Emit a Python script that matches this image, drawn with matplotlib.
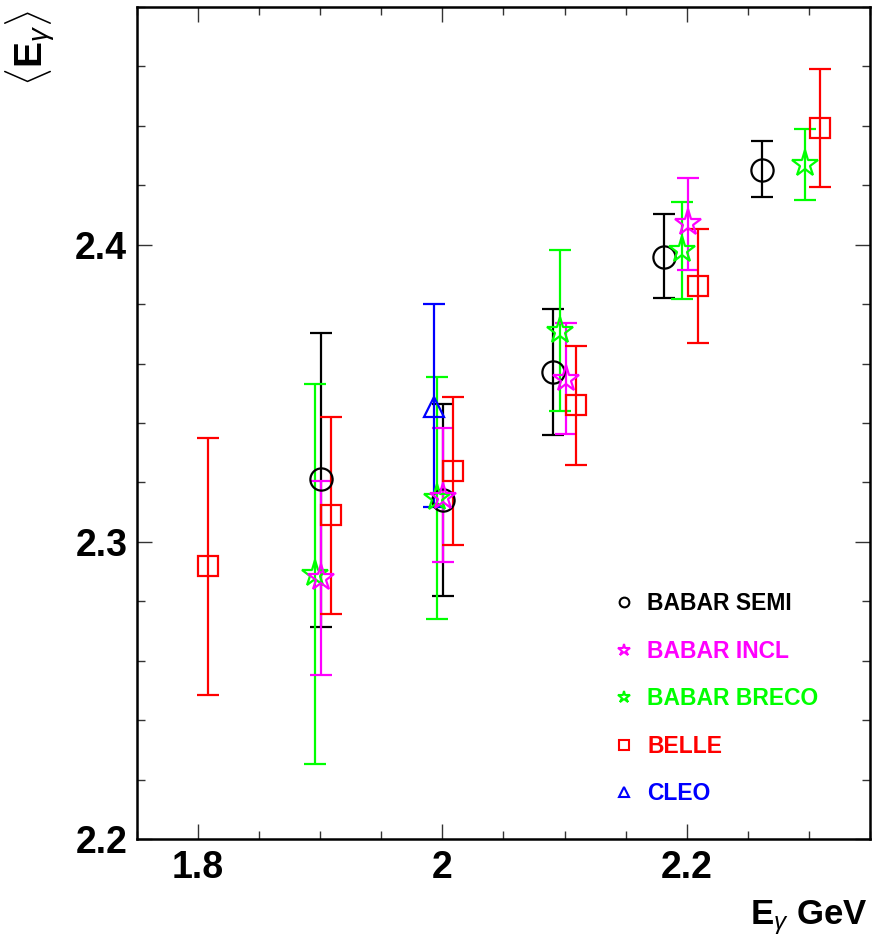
import matplotlib
matplotlib.use("Agg")
import matplotlib.pyplot as plt
from matplotlib.lines import Line2D
from matplotlib.ticker import MultipleLocator, FixedLocator, FixedFormatter
import numpy as np

plt.rcParams['font.family'] = ['Liberation Sans', 'DejaVu Sans']
plt.rcParams['mathtext.fontset'] = 'custom'
plt.rcParams['mathtext.rm'] = 'Liberation Sans'
plt.rcParams['mathtext.bf'] = 'Liberation Sans:bold'
plt.rcParams['mathtext.it'] = 'Liberation Sans:italic'

# ---- data ----
semi_x = [1.9006, 2.0008, 2.0907, 2.1811, 2.2615]
semi_y = [2.3210, 2.3140, 2.3571, 2.3960, 2.4253]
semi_hi = [2.3702, 2.3464, 2.3785, 2.4104, 2.4348]
semi_lo = [2.2713, 2.2817, 2.3358, 2.3821, 2.4160]

incl_x = [1.9006, 2.0008, 2.1014, 2.2014]
incl_y = [2.2878, 2.3151, 2.3547, 2.4073]
incl_hi = [2.3204, 2.3382, 2.3735, 2.4225]
incl_lo = [2.2552, 2.2932, 2.3362, 2.3916]

breco_x = [1.8956, 1.9954, 2.0962, 2.1965, 2.2965]
breco_y = [2.2893, 2.3146, 2.3710, 2.3983, 2.4272]
breco_hi = [2.3530, 2.3556, 2.3983, 2.4143, 2.4388]
breco_lo = [2.2252, 2.2741, 2.3440, 2.3818, 2.4152]

belle_x = [1.8080, 1.9088, 2.0090, 2.1090, 2.2093, 2.3090]
belle_y = [2.2918, 2.3089, 2.3238, 2.3460, 2.3862, 2.4394]
belle_hi = [2.3350, 2.3421, 2.3486, 2.3660, 2.4053, 2.4590]
belle_lo = [2.2486, 2.2758, 2.2988, 2.3260, 2.3668, 2.4193]

cleo_x = [1.9929]
cleo_y = [2.3455]
cleo_hi = [2.3801]
cleo_lo = [2.3117]

labels = ["BABAR SEMI", "BABAR INCL", "BABAR BRECO", "BELLE", "CLEO"]
colors = ["#000000", "#ff00ff", "#00ff00", "#ff0000", "#0000ff"]
markers = ["o", "*", "*", "s", "^"]

xticks = [1.8, 2.0, 2.2]
xticklabels = ["1.8", "2", "2.2"]
yticks = [2.2, 2.3, 2.4]
yticklabels = ["2.2", "2.3", "2.4"]

series = [
    (semi_x, semi_y, semi_lo, semi_hi),
    (breco_x, breco_y, breco_lo, breco_hi),
    (incl_x, incl_y, incl_lo, incl_hi),
    (belle_x, belle_y, belle_lo, belle_hi),
    (cleo_x, cleo_y, cleo_lo, cleo_hi),
]
order = [0, 2, 1, 3, 4]
msizes = [16, 20, 20, 15, 15]

fig = plt.figure(figsize=(8.73, 9.36), dpi=100)
ax = fig.add_axes([137/873, 1-839/936, (870-137)/873, (839-7)/936])

for (x, y, lo, hi), idx in zip(series, order):
    x = np.array(x); y = np.array(y); lo = np.array(lo); hi = np.array(hi)
    ax.errorbar(x, y, yerr=[y - lo, hi - y], fmt=markers[idx], color=colors[idx],
                mfc='none', mec=colors[idx], ms=msizes[idx], mew=1.6,
                elinewidth=1.6, capsize=8, capthick=1.6, zorder=3)

ax.set_xlim(1.75, 2.35)
ax.set_ylim(2.2, 2.48)
ax.xaxis.set_major_locator(FixedLocator(xticks))
ax.xaxis.set_major_formatter(FixedFormatter(xticklabels))
ax.yaxis.set_major_locator(FixedLocator(yticks))
ax.yaxis.set_major_formatter(FixedFormatter(yticklabels))
ax.xaxis.set_minor_locator(MultipleLocator(0.05))
ax.yaxis.set_minor_locator(MultipleLocator(0.02))
ax.tick_params(which='both', direction='in', top=True, right=True, width=1.0, color='#333333')
ax.tick_params(which='major', length=11)
ax.tick_params(which='minor', length=6)
ax.tick_params(axis='x', which='major', labelsize=27, pad=8)
ax.tick_params(axis='y', which='major', labelsize=27, pad=7)
for lab in ax.get_xticklabels() + ax.get_yticklabels():
    lab.set_fontweight('bold')
for s in ax.spines.values():
    s.set_linewidth(1.8)

# legend
handles = [Line2D([], [], linestyle='none', marker=markers[i], mfc='none', mec=colors[i],
                  ms=(9 if markers[i] == '*' else 7), mew=1.5) for i in range(5)]
leg = ax.legend(handles, labels, loc='upper left', bbox_to_anchor=(0.64, 0.3075),
                frameon=False, prop={'family': 'Liberation Sans', 'weight': 'bold', 'size': 16.5},
                handlelength=0.8, handletextpad=0.6, labelspacing=1.07, borderaxespad=0)
for t, c in zip(leg.get_texts(), colors):
    t.set_color(c)

fig.text(31/873, 1-48/936, r'$\langle\mathbf{E}_{\gamma}\rangle$', rotation=90,
         ha='center', va='center', fontsize=28)
fig.text(868/873, 1-924/936, r'$\mathbf{E}_{\gamma}$ GeV', ha='right', va='baseline',
         fontsize=25, fontweight='bold')

fig.savefig('out.png', dpi=100)
